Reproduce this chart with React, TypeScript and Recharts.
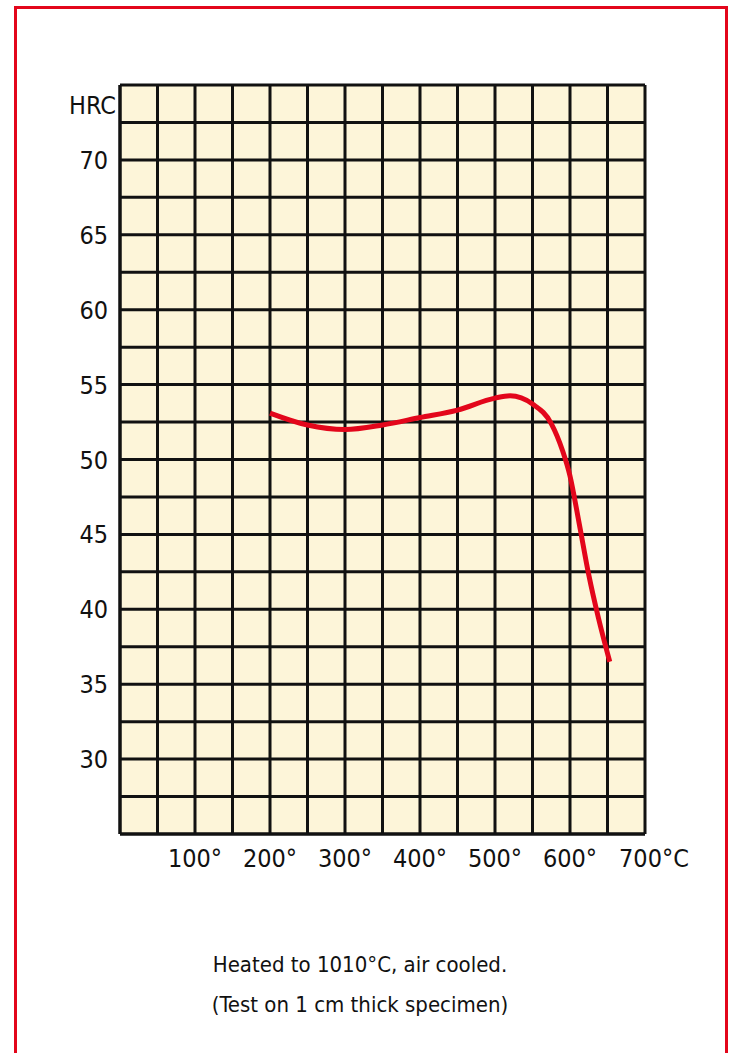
import { LineChart, Line, XAxis, YAxis, CartesianGrid } from "recharts";

// tempering curve: hardness after tempering at each temperature
const temps = [200, 250, 300, 350, 400, 450, 500, 520, 550, 575, 590, 600, 612, 625, 638, 653];
const hardness = [53.1, 52.3, 52.0, 52.3, 52.8, 53.3, 54.1, 54.25, 53.7, 52.4, 50.6, 48.9, 45.8, 42.3, 39.4, 36.5];

const xTicks = [0, 50, 100, 150, 200, 250, 300, 350, 400, 450, 500, 550, 600, 650, 700];
const xLabels = ["", "", "100°", "", "200°", "", "300°", "", "400°", "", "500°", "", "600°", "", "700°C"];
const yTicks = [25, 27.5, 30, 32.5, 35, 37.5, 40, 42.5, 45, 47.5, 50, 52.5, 55, 57.5, 60, 62.5, 65, 67.5, 70, 72.5, 75];
const yLabelled = [30, 35, 40, 45, 50, 55, 60, 65, 70];
const yTitle = "HRC";
const caption = ["Heated to 1010°C, air cooled.", "(Test on 1 cm thick specimen)"];

const data = temps.map((t, i) => ({ t, hrc: hardness[i] }));

const FONT = "'Liberation Sans Narrow', 'DejaVu Sans Condensed', sans-serif";
const RED = "#e3061b";

const XTick = (props: any) => {
  const { x, y, payload } = props;
  const idx = xTicks.indexOf(payload.value);
  const label = xLabels[idx] ?? "";
  if (!label) return null;
  const shift = label.endsWith("C") ? 9 : 0;
  return (
    <text x={x + shift} y={y + 33} textAnchor="middle" fontSize={25} fontFamily={FONT} fill="#111">
      {label}
    </text>
  );
};

const YTick = (props: any) => {
  const { x, y, payload } = props;
  if (payload.value === 75) {
    return (
      <text x={x + 8} y={y + 29} textAnchor="end" fontSize={25} fontFamily={FONT} fill="#111">
        {yTitle}
      </text>
    );
  }
  if (!yLabelled.includes(payload.value)) return null;
  return (
    <text x={x} y={y + 9} textAnchor="end" fontSize={25} fontFamily={FONT} fill="#111">
      {payload.value}
    </text>
  );
};

export default function App() {
  return (
    <div
      style={{
        position: "absolute",
        left: 0,
        top: 0,
        width: 731,
        height: 1053,
        overflow: "hidden",
        background: "#fff",
      }}
    >
      <div
        style={{
          position: "absolute",
          left: 14,
          top: 6,
          width: 714,
          height: 1100,
          border: `3px solid ${RED}`,
          boxSizing: "border-box",
        }}
      />
      <div style={{ position: "absolute", left: 0, top: 0 }}>
        <LineChart width={731} height={1053} data={data} margin={{ top: 85, right: 86, bottom: 189, left: 12 }}>
          <CartesianGrid stroke="#111" strokeWidth={3} fill="#fdf5d9" fillOpacity={1} />
          <XAxis
            dataKey="t"
            type="number"
            domain={[0, 700]}
            ticks={xTicks}
            interval={0}
            tick={<XTick />}
            tickLine={false}
            tickSize={0}
            tickMargin={0}
            axisLine={{ stroke: "#111", strokeWidth: 3 }}
            height={30}
          />
          <YAxis
            type="number"
            domain={[25, 75]}
            ticks={yTicks}
            interval={0}
            tick={<YTick />}
            tickLine={false}
            tickSize={0}
            tickMargin={12}
            axisLine={{ stroke: "#111", strokeWidth: 3 }}
            width={108}
          />
          <Line
            dataKey="hrc"
            type="monotone"
            stroke={RED}
            strokeWidth={5}
            dot={false}
            isAnimationActive={false}
          />
        </LineChart>
      </div>
      <div
        style={{
          position: "absolute",
          left: 0,
          width: 720,
          top: 945,
          textAlign: "center",
          fontFamily: FONT,
          fontSize: 22,
          lineHeight: "40px",
          color: "#111",
        }}
      >
        <div>{caption[0]}</div>
        <div>{caption[1]}</div>
      </div>
    </div>
  );
}
